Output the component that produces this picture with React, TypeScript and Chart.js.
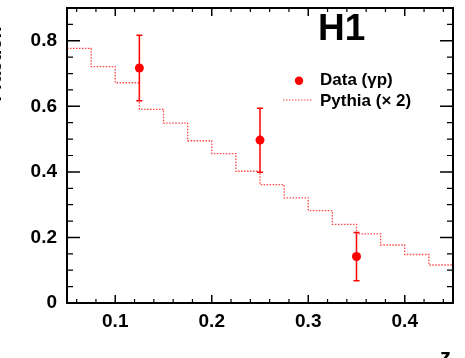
import { useEffect, useRef } from "react";
import { Chart, registerables } from "chart.js";

Chart.register(...registerables);

const FONT = '"Liberation Sans", Arial, Helvetica, sans-serif';

// Measured data points (z, fraction) with error bars
const dataX = [0.125, 0.25, 0.35];
const dataY = [0.717, 0.497, 0.142];
const dataErrLow = [0.617, 0.399, 0.068];
const dataErrHigh = [0.817, 0.594, 0.215];

// Pythia (x2) histogram: bin edges and bin contents
const pythiaEdges = [0.05, 0.075, 0.1, 0.125, 0.15, 0.175, 0.2, 0.225, 0.25, 0.275, 0.3, 0.325, 0.35, 0.375, 0.4, 0.425, 0.45];
const pythiaValues = [0.777, 0.721, 0.672, 0.591, 0.549, 0.495, 0.456, 0.402, 0.361, 0.321, 0.282, 0.24, 0.211, 0.177, 0.148, 0.116];

// Axis ticks
const xMajorTicks = [0.1, 0.2, 0.3, 0.4];
const xMinorTicks = [0.06, 0.08, 0.12, 0.14, 0.16, 0.18, 0.22, 0.24, 0.26, 0.28, 0.32, 0.34, 0.36, 0.38, 0.42, 0.44];
const yMajorTicks = [0, 0.2, 0.4, 0.6, 0.8];
const yMinorTicks = [0.05, 0.1, 0.15, 0.25, 0.3, 0.35, 0.45, 0.5, 0.55, 0.65, 0.7, 0.75, 0.85];

const xTitle = "z";
const yTitle = "Fraction";
const expLabel = "H1";
const legendData = "Data (γp)";
const legendPythia = "Pythia (× 2)";

export default function App() {
  const ref = useRef<HTMLCanvasElement>(null);

  useEffect(() => {
    document.body.style.margin = "0";
    const canvas = ref.current!;
    // step points: bin i value held from edge i to edge i+1 (stepped "after")
    const pythiaPoints: { x: number; y: number }[] = [{ x: pythiaEdges[0], y: pythiaValues[0] }];
    pythiaValues.forEach((v, i) => {
      pythiaPoints.push({ x: pythiaEdges[i + 1], y: v });
    });
    const dataPoints = dataX.map((x, i) => ({ x, y: dataY[i] }));

    const framePlugin = {
      id: "frame",
      beforeDatasetsDraw(chart: any) {
        const ctx = chart.ctx;
        const xs = chart.scales.x;
        const ys = chart.scales.y;
        ctx.save();
        ctx.strokeStyle = "#ff0000";
        ctx.lineWidth = 1.5;
        dataX.forEach((x, i) => {
          const px = xs.getPixelForValue(x);
          const lo = ys.getPixelForValue(dataErrLow[i]);
          const hi = ys.getPixelForValue(dataErrHigh[i]);
          ctx.beginPath();
          ctx.moveTo(px, lo);
          ctx.lineTo(px, hi);
          ctx.moveTo(px - 3, lo);
          ctx.lineTo(px + 3, lo);
          ctx.moveTo(px - 3, hi);
          ctx.lineTo(px + 3, hi);
          ctx.stroke();
        });
        ctx.restore();
      },
      afterDraw(chart: any) {
        const ctx = chart.ctx;
        const a = chart.chartArea;
        const xs = chart.scales.x;
        const ys = chart.scales.y;
        ctx.save();
        ctx.strokeStyle = "#000";
        // frame
        ctx.lineWidth = 2;
        ctx.strokeRect(a.left, a.top, a.right - a.left, a.bottom - a.top);
        // x ticks (bottom and top)
        const xt = (v: number, len: number, w: number) => {
          const px = xs.getPixelForValue(v);
          ctx.lineWidth = w;
          ctx.beginPath();
          ctx.moveTo(px, a.bottom);
          ctx.lineTo(px, a.bottom - len);
          ctx.moveTo(px, a.top);
          ctx.lineTo(px, a.top + len);
          ctx.stroke();
        };
        xMajorTicks.forEach((v) => xt(v, 8, 1.5));
        xMinorTicks.forEach((v) => xt(v, 4, 1.2));
        const yt = (v: number, len: number, w: number) => {
          const py = ys.getPixelForValue(v);
          ctx.lineWidth = w;
          ctx.beginPath();
          ctx.moveTo(a.left, py);
          ctx.lineTo(a.left + len, py);
          ctx.moveTo(a.right, py);
          ctx.lineTo(a.right - len, py);
          ctx.stroke();
        };
        yMajorTicks.forEach((v) => yt(v, 13, 1.5));
        yMinorTicks.forEach((v) => yt(v, 6, 1.2));

        // H1 label
        ctx.fillStyle = "#000";
        ctx.textAlign = "left";
        ctx.textBaseline = "alphabetic";
        ctx.font = `bold 37px ${FONT}`;
        ctx.fillText(expLabel, 318, 39.5);

        // legend
        ctx.fillStyle = "#ff0000";
        ctx.beginPath();
        ctx.arc(299, 80.7, 4.2, 0, Math.PI * 2);
        ctx.fill();
        ctx.strokeStyle = "rgba(255,40,40,0.85)";
        ctx.lineWidth = 1.2;
        ctx.setLineDash([1.5, 1.5]);
        ctx.beginPath();
        ctx.moveTo(283, 100);
        ctx.lineTo(312, 100);
        ctx.stroke();
        ctx.setLineDash([]);
        ctx.fillStyle = "#000";
        ctx.font = `bold 17px ${FONT}`;
        ctx.fillText(legendData, 320, 85);
        ctx.fillText(legendPythia, 320, 105.5);

        // axis titles (partially clipped, as in the reference)
        ctx.font = `bold 22px ${FONT}`;
        ctx.fillText(xTitle, 440, 364);
        ctx.save();
        ctx.translate(1, 64);
        ctx.rotate(-Math.PI / 2);
        ctx.textAlign = "center";
        ctx.textBaseline = "alphabetic";
        ctx.font = `bold 19px ${FONT}`;
        ctx.fillText(yTitle, 0, 0);
        ctx.restore();
        ctx.restore();
      },
    };

    const tickFont = { family: FONT, size: 19, weight: "bold" as const };

    const chart = new Chart(canvas, {
      type: "scatter",
      data: {
        datasets: [
          {
            type: "line",
            data: pythiaPoints,
            stepped: "after",
            borderColor: "rgba(255,40,40,0.85)",
            borderWidth: 1.3,
            borderDash: [1.5, 1.5],
            pointRadius: 0,
            fill: false,
          } as any,
          {
            type: "scatter",
            data: dataPoints,
            pointRadius: 4.5,
            backgroundColor: "#ff0000",
            borderColor: "#ff0000",
            borderWidth: 0,
          },
        ],
      },
      options: {
        responsive: false,
        animation: false,
        layout: { padding: { top: 8, right: 12, left: 0, bottom: 0 } },
        plugins: { legend: { display: false }, tooltip: { enabled: false } },
        scales: {
          x: {
            type: "linear",
            min: 0.05,
            max: 0.45,
            afterBuildTicks: (s: any) => {
              s.ticks = xMajorTicks.map((v) => ({ value: v }));
            },
            afterFit: (s: any) => {
              s.height = 55;
              s.paddingLeft = 0;
              s.paddingRight = 0;
            },
            grid: { display: false, drawTicks: false },
            border: { display: false },
            ticks: {
              padding: 7,
              color: "#000",
              font: tickFont,
              maxRotation: 0,
              callback: (v: any) => Number(v).toFixed(1),
            },
          },
          y: {
            type: "linear",
            min: 0,
            max: 0.9,
            afterBuildTicks: (s: any) => {
              s.ticks = yMajorTicks.map((v) => ({ value: v }));
            },
            afterFit: (s: any) => {
              s.width = 67;
              s.paddingTop = 0;
              s.paddingBottom = 0;
            },
            grid: { display: false, drawTicks: false },
            border: { display: false },
            ticks: {
              padding: 10,
              color: "#000",
              font: tickFont,
              callback: (v: any) => (Number(v) === 0 ? "0" : Number(v).toFixed(1)),
            },
          },
        },
      },
      plugins: [framePlugin],
    });
    return () => chart.destroy();
  }, []);

  return <canvas ref={ref} width={465} height={358} style={{ display: "block" }} />;
}
